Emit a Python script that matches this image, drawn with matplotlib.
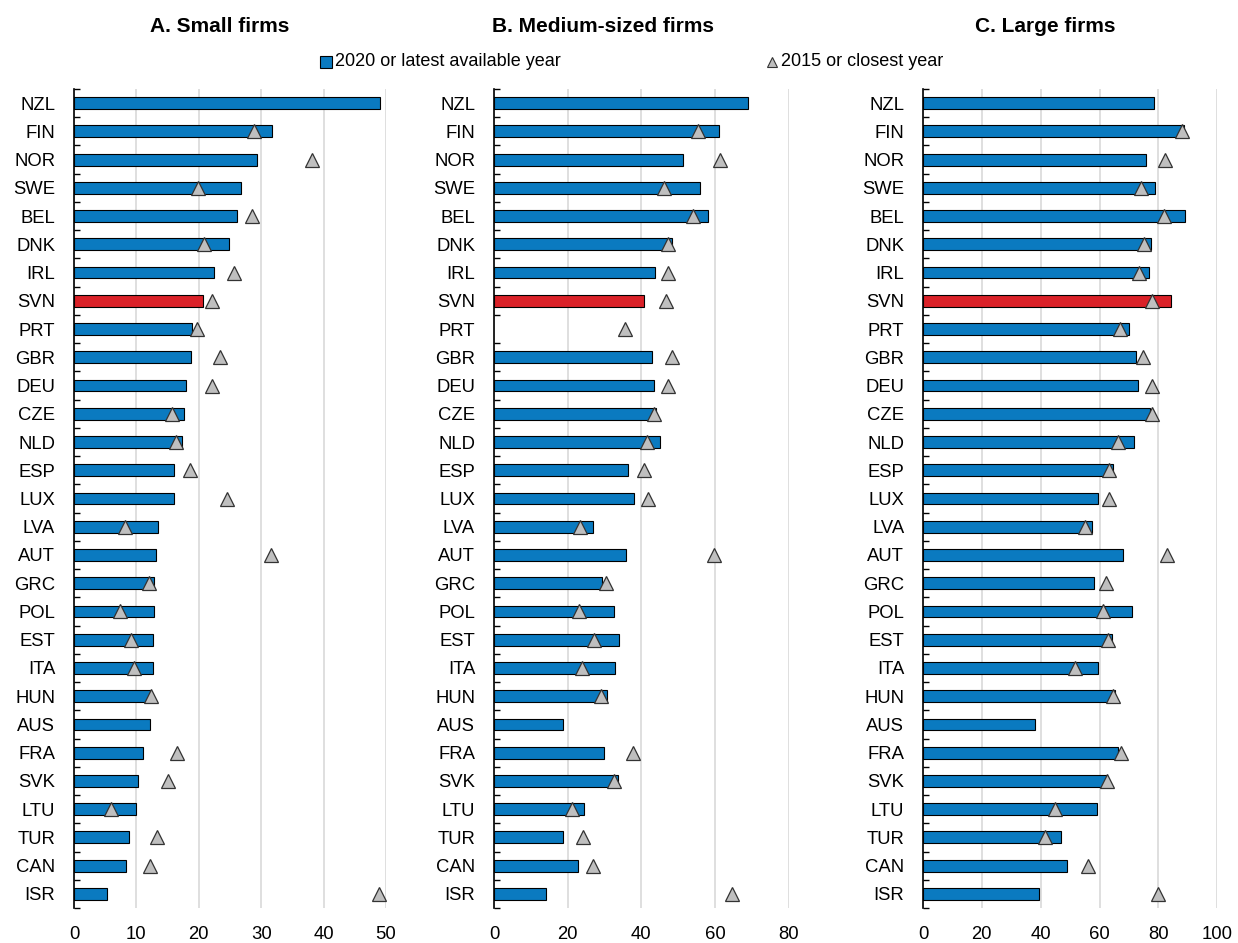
import numpy as np
import matplotlib
matplotlib.use("Agg")
import matplotlib.pyplot as plt
from matplotlib.lines import Line2D
from matplotlib.ticker import FixedLocator, NullFormatter
from matplotlib import font_manager

plt.rcParams['font.family'] = ['Liberation Sans', 'DejaVu Sans']

names = {f.name for f in font_manager.fontManager.ttflist}
TICKFAM = ['Liberation Sans Narrow', 'Liberation Sans'] if 'Liberation Sans Narrow' in names else ['Liberation Sans']
TICKSIZE = 14 if 'Liberation Sans Narrow' in names else 13.3

countries = ["NZL", "FIN", "NOR", "SWE", "BEL", "DNK", "IRL", "SVN", "PRT", "GBR",
             "DEU", "CZE", "NLD", "ESP", "LUX", "LVA", "AUT", "GRC", "POL", "EST",
             "ITA", "HUN", "AUS", "FRA", "SVK", "LTU", "TUR", "CAN", "ISR"]

nan = np.nan
small_2020 = [49.0, 31.7, 29.4, 26.7, 26.2, 24.9, 22.4, 20.7, 18.9, 18.7,
              18.0, 17.7, 17.3, 16.0, 16.0, 13.5, 13.2, 12.9, 12.9, 12.7,
              12.7, 12.2, 12.1, 11.0, 10.3, 9.9, 8.8, 8.3, 5.3]
small_2015 = [nan, 28.9, 38.2, 19.9, 28.5, 20.9, 25.7, 22.1, 19.7, 23.4,
              22.1, 15.7, 16.3, 18.6, 24.5, 8.2, 31.5, 12.0, 7.4, 9.1,
              9.6, 12.4, nan, 16.5, 15.1, 6.0, 13.3, 12.1, 48.9]

medium_2020 = [68.9, 61.0, 51.2, 56.0, 58.1, 48.4, 43.8, 40.8, nan, 42.8,
               43.3, 44.1, 45.1, 36.3, 38.0, 26.9, 35.8, 29.2, 32.7, 34.0,
               32.9, 30.8, 18.7, 29.8, 33.6, 24.3, 18.6, 22.9, 14.2]
medium_2015 = [nan, 55.4, 61.4, 46.2, 53.9, 47.2, 47.1, 46.7, 35.5, 48.3,
               47.1, 43.4, 41.4, 40.6, 41.8, 23.3, 59.8, 30.3, 23.2, 27.1,
               24.0, 29.0, nan, 37.6, 32.5, 21.3, 24.2, 26.8, 64.7]

large_2020 = [78.6, 88.6, 75.8, 78.9, 89.1, 77.6, 76.8, 84.1, 69.9, 72.4,
              73.2, 77.1, 71.8, 64.7, 59.3, 57.5, 67.8, 58.1, 70.9, 64.2,
              59.6, 65.3, 37.9, 66.1, 62.4, 59.1, 46.8, 48.8, 39.3]
large_2015 = [nan, 88.1, 82.2, 74.2, 82.0, 75.0, 73.4, 77.9, 67.0, 74.6,
              77.8, 77.9, 66.1, 63.1, 63.2, 55.2, 82.9, 62.1, 61.2, 62.7,
              51.6, 64.6, nan, 67.2, 62.6, 44.8, 41.6, 55.9, 79.7]

titles = ["A. Small firms", "B. Medium-sized firms", "C. Large firms"]
xticks = [[0, 10, 20, 30, 40, 50], [0, 20, 40, 60, 80], [0, 20, 40, 60, 80, 100]]
legend_labels = ["2020 or latest available year", "2015 or closest year"]

BLUE = "#0A7AC0"
RED = "#DA2128"
TRI = "#BFBFBF"
GRID = "#D9D9D9"

W, H = 1238, 943
fig = plt.figure(figsize=(W / 100, H / 100), dpi=100)

ax_px = [(74, 386), (494, 788.7), (923, 1217.3)]
top_px, bot_px = 89, 908
title_cx = [220, 603, 1045]

panels = [(small_2020, small_2015), (medium_2020, medium_2015), (large_2020, large_2015)]
n = len(countries)
y = np.arange(n)

for i, ((v20, v15), (l, r)) in enumerate(zip(panels, ax_px)):
    ax = fig.add_axes([l / W, 1 - bot_px / H, (r - l) / W, (bot_px - top_px) / H])
    colors = [RED if c == "SVN" else BLUE for c in countries]
    ax.barh(y, v20, height=0.42, color=colors, edgecolor="black", linewidth=0.8, zorder=2)
    ax.plot(v15, y, linestyle="none", marker="^", markersize=9.5, markerfacecolor=TRI,
            markeredgecolor="#333333", markeredgewidth=0.9, zorder=3)
    ax.set_ylim(n - 0.5, -0.5)
    ax.set_xlim(xticks[i][0], xticks[i][-1])
    ax.set_xticks(xticks[i])
    ax.set_yticks(y)
    ax.set_yticklabels(countries)
    ax.yaxis.set_minor_locator(FixedLocator(np.arange(-0.5, n, 1.0)))
    ax.yaxis.set_minor_formatter(NullFormatter())
    ax.tick_params(axis="y", which="major", length=0, pad=13.5)
    ax.tick_params(axis="y", which="minor", direction="in", length=4.5, width=1.0, color="black")
    ax.tick_params(axis="x", which="major", length=0, pad=13)
    for lab in ax.get_yticklabels() + ax.get_xticklabels():
        lab.set_family(TICKFAM)
        lab.set_fontsize(TICKSIZE)
    for s in ["top", "right", "bottom"]:
        ax.spines[s].set_visible(False)
    ax.spines["left"].set_linewidth(1.2)
    ax.spines["left"].set_color("black")
    ax.grid(axis="x", color=GRID, linewidth=1.2, zorder=0)
    ax.set_axisbelow(True)
    fig.text(title_cx[i] / W, 1 - 26 / H, titles[i], ha="center", va="center",
             fontsize=15, fontweight="bold")

ly = 1 - 62 / H
fig.add_artist(Line2D([326 / W], [ly], transform=fig.transFigure, marker="s", markersize=8.5,
                      markerfacecolor=BLUE, markeredgecolor="black", markeredgewidth=0.8,
                      linestyle="none"))
fig.text(335 / W, ly, legend_labels[0], ha="left", va="center", fontsize=13,
         family=TICKFAM if 'Liberation Sans Narrow' not in names else ['Liberation Sans'])
fig.add_artist(Line2D([772 / W], [ly], transform=fig.transFigure, marker="^", markersize=7.5,
                      markerfacecolor=TRI, markeredgecolor="#333333", markeredgewidth=0.8,
                      linestyle="none"))
fig.text(781 / W, ly, legend_labels[1], ha="left", va="center", fontsize=13)

fig.savefig("out.png", dpi=100)
